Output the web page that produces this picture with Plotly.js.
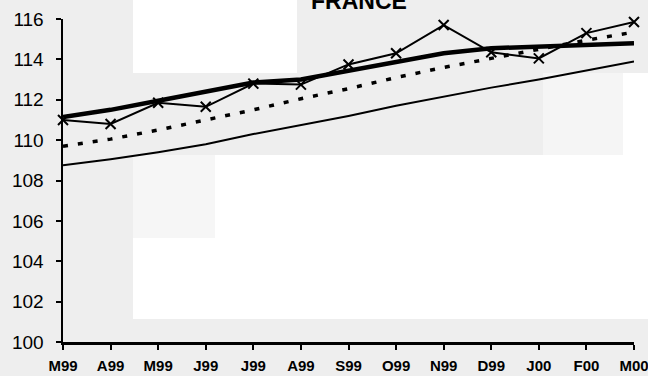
<!DOCTYPE html>
<html>
<head>
<meta charset="utf-8">
<script src="https://cdn.plot.ly/plotly-3.0.1.min.js"></script>
<style>
  html, body { margin: 0; padding: 0; }
  #wrap { position: relative; width: 648px; height: 376px; background: #eeeeee; overflow: hidden; }
  .bg { position: absolute; }
  #chart { position: absolute; left: 0; top: 0; width: 648px; height: 376px; }
</style>
</head>
<body>
<div id="wrap">
  <div class="bg" style="left:133px;top:0;width:164px;height:73px;background:#ffffff"></div>
  <div class="bg" style="left:215px;top:155px;width:433px;height:164px;background:#ffffff"></div>
  <div class="bg" style="left:133px;top:238px;width:82px;height:81px;background:#ffffff"></div>
  <div class="bg" style="left:133px;top:155px;width:82px;height:83px;background:#f6f6f6"></div>
  <div class="bg" style="left:543px;top:73px;width:80px;height:82px;background:#f5f5f5"></div>
  <div class="bg" style="left:623px;top:73px;width:25px;height:82px;background:#ffffff"></div>
  <div id="chart"></div>
</div>
<script>
const months = ['M99','A99','M99','J99','J99','A99','S99','O99','N99','D99','J00','F00','M00'];
const actual = [111.0, 110.8, 111.85, 111.65, 112.8, 112.75, 113.75, 114.3, 115.7, 114.35, 114.05, 115.3, 115.85];
const trend  = [111.15, 111.5, 111.95, 112.4, 112.85, 113.0, 113.45, 113.9, 114.3, 114.55, 114.65, 114.75, 114.8];
const dotted = [109.7, 110.05, 110.5, 111.0, 111.5, 112.05, 112.55, 113.1, 113.6, 114.05, 114.5, 114.95, 115.35];
const lower  = [108.75, 109.05, 109.4, 109.8, 110.3, 110.75, 111.2, 111.7, 112.15, 112.6, 113.0, 113.45, 113.9];
const yTicks = [100, 102, 104, 106, 108, 110, 112, 114, 116];

const xIdx = months.map((m, i) => i);

const traces = [
  { x: xIdx, y: lower, mode: 'lines', line: {color: '#000', width: 2}, cliponaxis: false },
  { x: xIdx, y: dotted, mode: 'lines', line: {color: '#000', width: 3.5, dash: '5px,10px'}, cliponaxis: false },
  { x: xIdx, y: trend, mode: 'lines', line: {color: '#000', width: 4.5}, cliponaxis: false },
  { x: xIdx, y: actual, mode: 'lines+markers', line: {color: '#000', width: 2},
    marker: {symbol: 'x-thin-open', size: 10, line: {color: '#000', width: 2}}, cliponaxis: false }
];

const layout = {
  width: 648, height: 376,
  margin: {l: 63, r: 14, t: 19, b: 34},
  paper_bgcolor: 'rgba(0,0,0,0)',
  plot_bgcolor: 'rgba(0,0,0,0)',
  showlegend: false,
  font: {family: 'Liberation Sans, Arial, sans-serif', color: '#000'},
  xaxis: {
    range: [0, 12], tickmode: 'array', tickvals: xIdx, ticktext: months,
    showgrid: false, zeroline: false, showline: true, linecolor: '#000', linewidth: 2.5,
    ticks: 'outside', ticklen: 5, tickwidth: 2, tickcolor: '#000',
    tickfont: {size: 15, family: 'Liberation Sans, Arial, sans-serif', weight: 'bold'},
    ticklabelstandoff: 3, ticklabeloverflow: 'allow', fixedrange: true
  },
  yaxis: {
    range: [100, 116], tickmode: 'array', tickvals: yTicks, ticktext: yTicks.map(String),
    showgrid: false, zeroline: false, showline: true, linecolor: '#000', linewidth: 2.5,
    ticks: 'outside', ticklen: 5, tickwidth: 2, tickcolor: '#000',
    tickfont: {size: 19, family: 'Liberation Sans, Arial, sans-serif'},
    ticklabelstandoff: 8, fixedrange: true
  },
  annotations: [{
    text: '<b>FRANCE</b>', xref: 'paper', yref: 'paper',
    x: (359 - 63) / 571, y: 1.0093, xanchor: 'center', yanchor: 'bottom',
    showarrow: false, font: {size: 23, family: 'Liberation Sans, Arial, sans-serif', color: '#000'}
  }]
};

Plotly.newPlot('chart', traces, layout, {displayModeBar: false, staticPlot: true});
</script>
</body>
</html>
